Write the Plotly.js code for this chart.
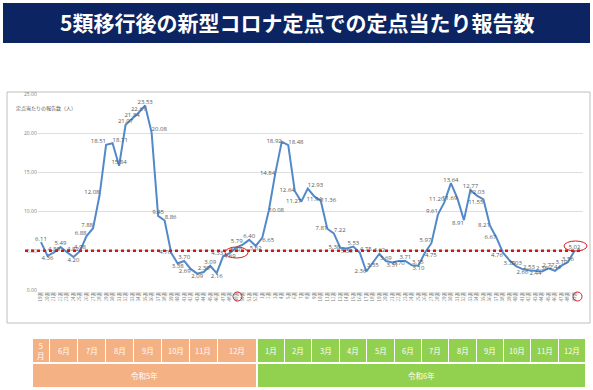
<!DOCTYPE html>
<html><head><meta charset="utf-8">
<script src="https://cdn.plot.ly/plotly-3.0.1.min.js"></script>
<style>html,body{margin:0;padding:0;background:#fff;}#chart{width:593px;height:390px;}</style>
</head><body><div id="chart"></div>
<script>
// ---- data ----
const weeks2023 = [19,20,21,22,23,24,25,26,27,28,29,30,31,32,33,34,35,36,37,38,39,40,41,42,43,44,45,46,47,48,49,50,51,52];
const weeks2024 = [1,2,3,4,5,6,7,8,9,10,11,12,13,14,15,16,17,18,19,20,21,22,23,24,25,26,27,28,29,30,31,32,33,34,35,36,37,38,39,40,41,42,43,44,45,46,47,48,49];
const values = [
  6.11,4.36,4.80,5.49,4.82,4.20,4.98,6.88,7.88,12.08,
  18.51,18.71,15.84,21.07,21.84,22.61,23.53,20.08,9.45,8.86,
  4.76,3.38,3.70,2.69,2.09,2.30,3.09,2.16,4.33,4.69,
  5.40,5.79,6.40,5.62,6.65,10.08,14.84,18.92,18.48,12.64,
  11.27,12.93,11.94,11.36,7.81,7.22,5.38,5.30,5.53,4.75,
  2.36,3.55,4.62,3.69,3.51,3.70,3.71,3.15,3.10,4.75,
  5.97,9.61,11.20,13.64,11.69,8.91,12.77,12.03,11.55,8.21,
  6.67,4.76,3.79,3.03,2.66,2.53,2.44,2.36,2.77,2.44,
  3.10,3.56,5.02
];
const tickLabels = weeks2023.map(w => w + '週').concat(weeks2024.map(w => w + '週'));
const months2023 = ['5<br>月','6月','7月','8月','9月','10月','11月','12月'];
const months2024 = ['1月','2月','3月','4月','5月','6月','7月','8月','9月','10月','11月','12月'];
const years = ['令和5年','令和6年'];
const titleText = '5類移行後の新型コロナ定点での定点当たり報告数';
const yTitle = '定点当たりの報告数（人）';
const refLine = 5;

// ---- label placement (style, per point) ----
const T='top center', B='bottom center', TL='top left', TR='top right', ML='middle left', MR='middle right', BL='bottom left', BR='bottom right';
const labelPos = [
  T,B,T,T,TR,B,T,TL,TL,TL,
  TL,TR,T,T,T,T,T,TR,T,TR,
  ML,B,T,BL,B,T,T,B,TL,B,
  B,TL,T,B,BR,MR,ML,ML,TR,ML,
  ML,TR,B,MR,ML,TR,ML,B,T,TR,
  ML,B,T,T,B,B,T,TR,B,BR,
  TL,TL,TL,T,ML,BL,T,T,BL,ML,
  ML,BL,B,T,B,T,B,T,T,T,
  T,T,T
];

// ---- layout helpers (pixel -> paper) ----
const W = 593, H = 390;
const px = x => x / W;
const py = y => 1 - y / H;
const idx = values.map((v, i) => i);

const trace = {
  x: idx, y: values, mode: 'lines+text', type: 'scatter',
  line: {color: '#5289c9', width: 2},
  text: values.map(v => v.toFixed(2)),
  textposition: labelPos,
  textfont: {size: 6, color: '#595959', family: 'Open Sans, sans-serif'},
  hoverinfo: 'none', cliponaxis: false
};

const shapes = [];
const annotations = [];
// title bar
shapes.push({type:'rect', xref:'paper', yref:'paper', x0:px(3), x1:px(590), y0:py(43), y1:py(3), fillcolor:'#0c2461', line:{width:0}, layer:'below'});
annotations.push({xref:'paper', yref:'paper', x:px(297), y:py(22), text:'<b>'+titleText+'</b>', showarrow:false, font:{size:21, color:'#fff', family:'Noto Sans CJK JP'}, xanchor:'center', yanchor:'middle'});
// chart frame
shapes.push({type:'rect', xref:'paper', yref:'paper', x0:px(7), x1:px(590), y0:py(323), y1:py(92), line:{color:'#bfbfbf', width:1}, fillcolor:'rgba(0,0,0,0)', layer:'below'});
annotations.push({xref:'paper', yref:'paper', x:px(14), y:py(108), text:yTitle, showarrow:false, font:{size:5, color:'#595959', family:'Noto Sans CJK JP'}, xanchor:'left', yanchor:'middle'});
// reference dotted line
shapes.push({type:'line', xref:'paper', yref:'y', x0:px(25), x1:px(583), y0:refLine, y1:refLine, line:{color:'#e01010', width:2.5, dash:'dot'}});
// red ellipses
shapes.push({type:'circle', xref:'paper', yref:'paper', x0:px(225), x1:px(248), y0:py(258), y1:py(247), line:{color:'#d02020', width:1}});
shapes.push({type:'circle', xref:'paper', yref:'paper', x0:px(564), x1:px(587), y0:py(251), y1:py(241), line:{color:'#d02020', width:1}});
shapes.push({type:'circle', xref:'paper', yref:'paper', x0:px(233), x1:px(242), y0:py(301), y1:py(292), line:{color:'#d02020', width:1}});
shapes.push({type:'circle', xref:'paper', yref:'paper', x0:px(573), x1:px(582), y0:py(301), y1:py(292), line:{color:'#d02020', width:1}});

// month / year table
const orange = '#f4b183', green = '#92d050';
const edges2023 = [33,50,78,106,134,162,190,218,257];
const edges2024 = [258,285,312,340,367,395,422,449,477,504,531,559,586];
function cell(x0, x1, y0, y1, color, text, fs) {
  shapes.push({type:'rect', xref:'paper', yref:'paper', x0:px(x0), x1:px(x1), y0:py(y1), y1:py(y0), fillcolor:color, line:{width:0}, layer:'below'});
  annotations.push({xref:'paper', yref:'paper', x:px((x0+x1)/2), y:py((y0+y1)/2), text:text, showarrow:false, font:{size:fs, color:'#fff', family:'Noto Sans CJK JP'}, xanchor:'center', yanchor:'middle'});
}
months2023.forEach((m, k) => cell(edges2023[k], edges2023[k+1]-1, 339, 362, orange, m, 7.5));
months2024.forEach((m, k) => cell(edges2024[k], edges2024[k+1]-1, 339, 362, green, m, 7.5));
cell(33, 256, 364, 387, orange, years[0], 7.5);
cell(258, 585, 364, 387, green, years[1], 7.5);

const layout = {
  width: W, height: H, margin: {l:0, r:0, t:0, b:0},
  paper_bgcolor: '#fff', plot_bgcolor: 'rgba(0,0,0,0)',
  showlegend: false,
  xaxis: {domain:[px(37.75), px(583)], range:[-0.5, 83.3], tickvals: idx, ticktext: tickLabels, tickangle: -90,
          tickfont:{size:4.5, color:'#808080', family:'Noto Sans CJK JP'}, showgrid:false, zeroline:false, showline:false, ticks:'', fixedrange:true},
  yaxis: {domain:[py(290), py(94)], range:[0,25], dtick:5, tickformat:'.2f', gridcolor:'#dedede', gridwidth:1,
          tickfont:{size:5, color:'#808080', family:'Open Sans, sans-serif'}, zeroline:false, showline:false, ticks:'', fixedrange:true},
  shapes: shapes, annotations: annotations
};
Plotly.newPlot('chart', [trace], layout, {staticPlot:true, displayModeBar:false});
</script></body></html>
